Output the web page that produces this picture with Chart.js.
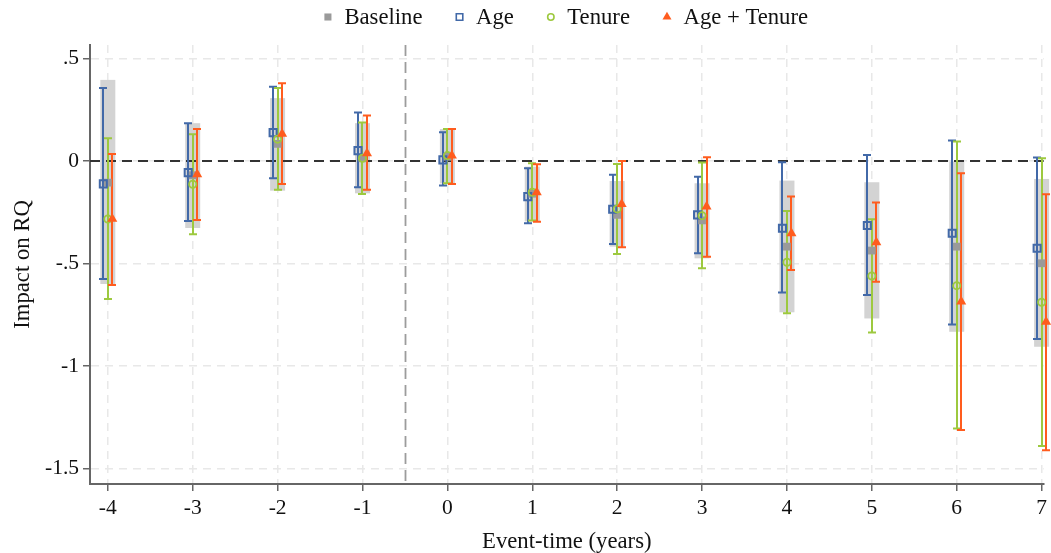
<!DOCTYPE html>
<html><head><meta charset="utf-8">
<script src="https://cdn.jsdelivr.net/npm/chart.js@4"></script>
<style>html,body{margin:0;padding:0;background:#fff}#wrap{width:1051px;height:553px;position:relative}</style>
</head><body><div id="wrap"><canvas id="c" width="1051" height="553"></canvas></div>
<script>
const events = [-4,-3,-2,-1,0,1,2,3,4,5,6,7];
const yTickValues = [0.5,0,-0.5,-1,-1.5];
const yTickLabels = ['.5','0','-.5','-1','-1.5'];
const seriesNames = ['Baseline','Age','Tenure','Age + Tenure'];

const baselineCoef = [-0.106,-0.070,0.083,0.013,0.020,-0.160,-0.263,-0.290,-0.418,-0.437,-0.418,-0.499];
const baselineLo   = [-0.600,-0.327,-0.145,-0.158,-0.110,-0.295,-0.418,-0.475,-0.738,-0.768,-0.833,-0.906];
const baselineHi   = [0.395,0.184,0.306,0.184,0.155,-0.028,-0.098,-0.109,-0.096,-0.104,-0.003,-0.088];

const ageCoef = [-0.112,-0.057,0.138,0.050,0.005,-0.174,-0.236,-0.263,-0.328,-0.315,-0.353,-0.426];
const ageLo   = [-0.576,-0.293,-0.085,-0.128,-0.120,-0.304,-0.405,-0.450,-0.642,-0.654,-0.797,-0.868];
const ageHi   = [0.355,0.184,0.362,0.236,0.140,-0.036,-0.068,-0.077,-0.006,0.029,0.099,0.016];

const tenureCoef = [-0.283,-0.114,0.106,0.013,0.026,-0.153,-0.234,-0.267,-0.494,-0.561,-0.608,-0.689];
const tenureLo   = [-0.673,-0.358,-0.141,-0.161,-0.109,-0.291,-0.454,-0.523,-0.743,-0.836,-1.304,-1.390];
const tenureHi   = [0.110,0.130,0.355,0.187,0.156,-0.011,-0.015,-0.008,-0.244,-0.285,0.094,0.013];

const ageTenureCoef = [-0.283,-0.065,0.132,0.037,0.026,-0.153,-0.210,-0.223,-0.353,-0.397,-0.686,-0.784];
const ageTenureLo   = [-0.605,-0.288,-0.112,-0.141,-0.112,-0.296,-0.421,-0.467,-0.532,-0.589,-1.312,-1.410];
const ageTenureHi   = [0.034,0.155,0.379,0.221,0.155,-0.016,0.000,0.018,-0.174,-0.203,-0.060,-0.162];

// styling / layout (not data)
const C_GRAY_BOX = '#d3d3d3', C_GRAY_PT = '#9a9a9a';
const C_BLUE = '#4269a8', C_GREEN = '#9dc93f', C_ORANGE = '#ff5c1e';
const DODGE = 0.053;
const TITLE_SIZE = 22.7, TICK_SIZE = 21.5;

const series = [
  {name: seriesNames[1], coef: ageCoef, lo: ageLo, hi: ageHi, color: C_BLUE, off: -DODGE},
  {name: seriesNames[2], coef: tenureCoef, lo: tenureLo, hi: tenureHi, color: C_GREEN, off: 0},
  {name: seriesNames[3], coef: ageTenureCoef, lo: ageTenureLo, hi: ageTenureHi, color: C_ORANGE, off: DODGE}
];

const pts = (coef, off) => events.map((e,i)=>({x: e + off, y: coef[i]}));

const FONT = '"Liberation Serif", "Times New Roman", serif';
Chart.defaults.font.family = FONT;
Chart.defaults.font.size = TICK_SIZE;
Chart.defaults.color = '#111';

const errPlugin = {
  id: 'errbars',
  beforeDatasetsDraw(chart) {
    const {ctx, chartArea: a, scales: {x, y}} = chart;
    ctx.save();
    ctx.fillStyle = C_GRAY_BOX;
    events.forEach((e,i)=>{
      const cx = x.getPixelForValue(e);
      const t = y.getPixelForValue(baselineHi[i]), b = y.getPixelForValue(baselineLo[i]);
      ctx.fillRect(cx - 7.5, t, 15, b - t);
    });
    ctx.setLineDash([11,6]);
    ctx.strokeStyle = '#9c9c9c'; ctx.lineWidth = 1.8;
    const vx = Math.round(x.getPixelForValue(-0.5)) + 0.5;
    ctx.beginPath(); ctx.moveTo(vx, a.top); ctx.lineTo(vx, a.bottom); ctx.stroke();
    ctx.setLineDash([10,6]);
    ctx.strokeStyle = '#333'; ctx.lineWidth = 2;
    const zy = Math.round(y.getPixelForValue(0));
    ctx.beginPath(); ctx.moveTo(a.left, zy); ctx.lineTo(a.right, zy); ctx.stroke();
    ctx.setLineDash([]);
    ctx.lineWidth = 2;
    series.forEach(s=>{
      ctx.strokeStyle = s.color;
      events.forEach((e,i)=>{
        const cx = Math.round(x.getPixelForValue(e + s.off));
        const t = y.getPixelForValue(s.hi[i]), b = y.getPixelForValue(s.lo[i]);
        ctx.beginPath();
        ctx.moveTo(cx, t); ctx.lineTo(cx, b);
        ctx.moveTo(cx - 4, t); ctx.lineTo(cx + 4, t);
        ctx.moveTo(cx - 4, b); ctx.lineTo(cx + 4, b);
        ctx.stroke();
      });
    });
    ctx.restore();
  }
};

// custom legend drawn at the top
const legendPlugin = {
  id: 'customLegend',
  afterDraw(chart) {
    const {ctx} = chart;
    const markers = [
      {style: 'rect', r: 5, fill: C_GRAY_PT, stroke: C_GRAY_PT, bw: 0},
      {style: 'rect', r: 4.6, fill: 'rgba(0,0,0,0)', stroke: C_BLUE, bw: 1.6},
      {style: 'circle', r: 3.2, fill: 'rgba(0,0,0,0)', stroke: C_GREEN, bw: 1.6},
      {style: 'triangle', r: 5.2, fill: C_ORANGE, stroke: C_ORANGE, bw: 0}
    ];
    ctx.save();
    ctx.font = TITLE_SIZE + 'px ' + FONT;
    const gapMT = 16.5, gapTM = 37, half = 4;
    const widths = seriesNames.map(n => ctx.measureText(n).width);
    let total = 0;
    widths.forEach((w,i)=>{ total += half + gapMT + w + (i < widths.length - 1 ? gapTM : 0); });
    total += half;
    let xpos = 574 - total / 2 + half;
    const ly = 17;
    ctx.textBaseline = 'middle';
    ctx.textAlign = 'left';
    seriesNames.forEach((n,i)=>{
      const m = markers[i];
      ctx.fillStyle = m.fill; ctx.strokeStyle = m.stroke; ctx.lineWidth = m.bw;
      Chart.helpers.drawPoint(ctx, {pointStyle: m.style, radius: m.r, borderWidth: m.bw, rotation: 0}, xpos, ly);
      ctx.fillStyle = '#111';
      ctx.fillText(n, xpos + gapMT, ly + 1);
      xpos += gapMT + widths[i] + gapTM;
    });
    ctx.restore();
  }
};

new Chart(document.getElementById('c'), {
  type: 'scatter',
  data: {
    datasets: [
      {label: seriesNames[0], data: pts(baselineCoef, 0), pointStyle: 'rect', pointRadius: 5.5, clip: false,
       backgroundColor: C_GRAY_PT, borderColor: C_GRAY_PT, borderWidth: 0, order: 4},
      {label: series[0].name, data: pts(series[0].coef, series[0].off), pointStyle: 'rect', pointRadius: 5, clip: false,
       backgroundColor: 'rgba(255,255,255,0)', borderColor: C_BLUE, borderWidth: 2, order: 3},
      {label: series[1].name, data: pts(series[1].coef, series[1].off), pointStyle: 'circle', pointRadius: 3.6, clip: false,
       backgroundColor: 'rgba(255,255,255,0)', borderColor: C_GREEN, borderWidth: 1.8, order: 2},
      {label: series[2].name, data: pts(series[2].coef, series[2].off), pointStyle: 'triangle', pointRadius: 5.8, clip: false,
       backgroundColor: C_ORANGE, borderColor: C_ORANGE, borderWidth: 0, order: 1}
    ]
  },
  options: {
    responsive: false,
    animation: false,
    layout: {padding: {left: 0, right: 0, top: 45, bottom: 0}},
    plugins: {
      legend: {display: false},
      tooltip: {enabled: false}
    },
    scales: {
      x: {
        type: 'linear', min: -4.21, max: 7.024,
        afterBuildTicks: s => { s.ticks = events.map(v => ({value: v})); },
        afterFit: s => { s.height = 69; },
        ticks: {padding: 4, callback: v => String(v), font: {size: TICK_SIZE}, color: '#111', maxRotation: 0, autoSkip: false},
        grid: {color: '#e8e8e8', lineWidth: 1.5, tickLength: 7, tickColor: '#666', tickWidth: 1.5},
        border: {display: true, color: '#666', width: 2, dash: [8,6]},
        title: {display: true, text: 'Event-time (years)', font: {size: TITLE_SIZE, lineHeight: 1.0}, color: '#111', padding: {top: 0, bottom: 0}}
      },
      y: {
        type: 'linear', min: -1.575, max: 0.565,
        afterBuildTicks: s => { s.ticks = yTickValues.map(v => ({value: v})); },
        afterFit: s => { s.width = 90; },
        ticks: {padding: 4, font: {size: TICK_SIZE}, color: '#111',
          callback: v => { const k = yTickValues.indexOf(v); return k >= 0 ? yTickLabels[k] : ''; }},
        grid: {color: '#e8e8e8', lineWidth: 1.5, tickLength: 7, tickColor: '#666', tickWidth: 1.5},
        border: {display: true, color: '#666', width: 2, dash: [8,6]},
        title: {display: true, text: 'Impact on RQ', font: {size: TITLE_SIZE}, color: '#111', padding: {top: 9, bottom: 0}}
      }
    }
  },
  plugins: [errPlugin, legendPlugin]
});
</script>
</body></html>
